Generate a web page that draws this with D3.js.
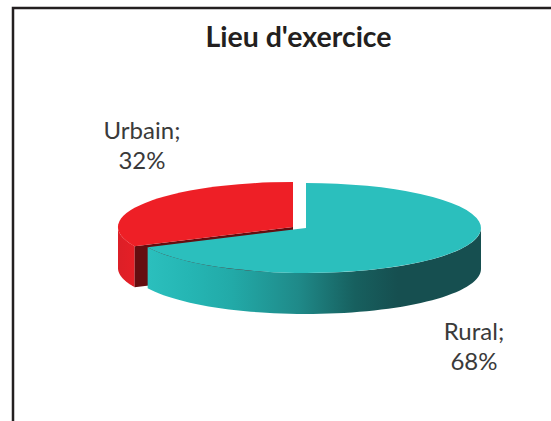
<!DOCTYPE html>
<html><head><meta charset="utf-8">
<script src="https://cdn.jsdelivr.net/npm/d3@7"></script>
<style>html,body{margin:0;padding:0;background:#fff}svg{display:block}</style>
</head><body><svg id="c" width="551" height="421"></svg>
<script>
const categories = ["Rural", "Urbain"];
const values = [68, 32];
const colors = ["#2bbfbd", "#ee1f26"];
const title = "Lieu d'exercice";

const svg = d3.select("#c");
const rx = 175, ry = 45, depth = 41;
const centers = [[306, 228], [293, 227]];
const pie = d3.pie().sort(null).value(d => d)(values);

const ellipsePt = (a, c, dy = 0) => [c[0] + rx * Math.sin(a), c[1] - ry * Math.cos(a) + dy];

const defs = svg.append("defs");
const tealGrad = defs.append("linearGradient").attr("id", "tealWall")
  .attr("gradientUnits", "userSpaceOnUse")
  .attr("x1", 148).attr("x2", 481).attr("y1", 0).attr("y2", 0);
[[0, "#2bbfbd"], [0.12, "#25b6b4"], [0.25, "#22aaa8"], [0.45, "#1f8a89"], [0.62, "#17605f"], [0.75, "#164f50"], [1, "#164f50"]]
  .forEach(([o, c]) => tealGrad.append("stop").attr("offset", o).attr("stop-color", c));
const redGrad = defs.append("linearGradient").attr("id", "redWall")
  .attr("gradientUnits", "userSpaceOnUse")
  .attr("x1", 118).attr("x2", 150).attr("y1", 0).attr("y2", 0);
[[0, "#dc1f27"], [1, "#ee1f26"]]
  .forEach(([o, c]) => redGrad.append("stop").attr("offset", o).attr("stop-color", c));

function wall(a0, a1, c) {
  const a = d3.range(0, 61).map(i => a0 + (a1 - a0) * i / 60);
  const top = a.map(t => ellipsePt(t, c));
  const bot = a.map(t => ellipsePt(t, c, depth)).reverse();
  return d3.line()(top.concat(bot)) + "Z";
}
const topArc = d3.arc().innerRadius(0).outerRadius(1);

svg.append("path")
  .attr("d", d3.line()([[13, 421], [13, 8], [551, 8]]))
  .attr("fill", "none").attr("stroke", "#231f20").attr("stroke-width", 2.5);

const u = pie[1], cU = centers[1];
svg.append("path").attr("d", wall(u.startAngle, 1.5 * Math.PI, cU)).attr("fill", "url(#redWall)");
const p0 = ellipsePt(u.startAngle, cU);
svg.append("path")
  .attr("d", d3.line()([cU, p0, [p0[0], p0[1] + depth], [cU[0], cU[1] + depth]]) + "Z")
  .attr("fill", "#650d10");
svg.append("path")
  .attr("transform", `translate(${cU}) scale(${rx},${ry})`)
  .attr("d", topArc(u)).attr("fill", colors[1]);

const r = pie[0], cR = centers[0];
svg.append("path").attr("d", wall(Math.PI / 2, r.endAngle, cR)).attr("fill", "url(#tealWall)");
svg.append("path")
  .attr("transform", `translate(${cR}) scale(${rx},${ry})`)
  .attr("d", topArc(r)).attr("fill", colors[0]);

svg.append("text").attr("x", 298.5).attr("y", 47)
  .attr("text-anchor", "middle")
  .style("font", "bold 28.5px Lato, sans-serif").attr("fill", "#231f20").text(title);

[[1, 142, 139], [0, 474, 340]].forEach(([i, x, y]) => {
  const t = svg.append("text").attr("text-anchor", "middle")
    .style("font", "24px Lato, sans-serif").attr("fill", "#3a3a3a");
  t.append("tspan").attr("x", x).attr("y", y).text(categories[i] + ";");
  t.append("tspan").attr("x", x).attr("y", y + 30).text(values[i] + "%");
});
</script></body></html>
